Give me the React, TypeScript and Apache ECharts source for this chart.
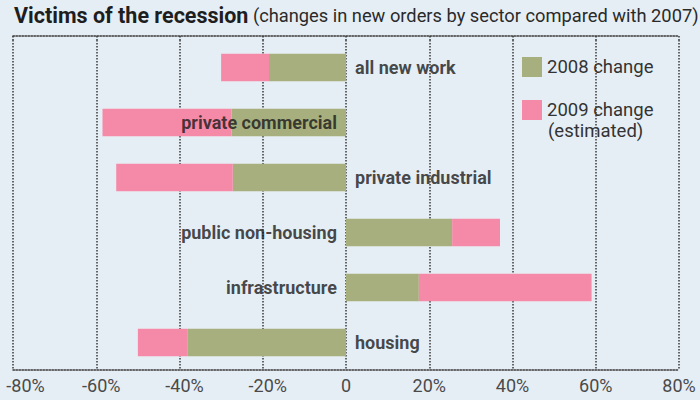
import React, { useEffect, useRef } from "react";
import * as echarts from "echarts";

const categories = [
  "all new work",
  "private commercial",
  "private industrial",
  "public non-housing",
  "infrastructure",
  "housing",
];
const change2008 = [-18.5, -27.5, -27.2, 25.5, 17.5, -38];
const change2009 = [-11.5, -31, -28, 11.5, 41.5, -12];
const labelsOnLeft = ["private commercial"];
const xTicks = [-80, -60, -40, -20, 0, 20, 40, 60, 80];

const FONT = "Roboto, 'Noto Sans', sans-serif";
const GREEN = "#a8af7e";
const PINK = "#f58aa8";
const DOT = "#3a3a3a";
const TICK_COLOR = "#4a4a4a";

export default function App() {
  const ref = useRef<HTMLDivElement>(null);
  useEffect(() => {
    if (!ref.current) return;
    const chart = echarts.init(ref.current, undefined, { renderer: "svg" });
    const xMin = xTicks[0];
    const xMax = xTicks[xTicks.length - 1];
    const interval = xTicks[1] - xTicks[0];
    chart.setOption({
      animation: false,
      backgroundColor: "#e6eef5",
      textStyle: { fontFamily: FONT },
      title: {
        left: 14,
        top: 4,
        padding: 0,
        text: "{b|Victims of the recession} {n|(changes in new orders by sector compared with 2007)}",
        textStyle: {
          rich: {
            b: { fontFamily: FONT, fontWeight: "bold", fontSize: 21.5, color: "#1e1e1e" },
            n: { fontFamily: FONT, fontWeight: "normal", fontSize: 18.3, color: "#2a2a2a" },
          },
        },
      },
      legend: {
        orient: "vertical",
        left: 522,
        top: 57,
        padding: 0,
        itemWidth: 20,
        itemHeight: 20,
        itemGap: 23,
        icon: "rect",
        selectedMode: false,
        textStyle: { fontFamily: FONT, fontSize: 18.5, color: "#333" },
        data: ["2008 change", "2009 change"],
      },
      graphic: [
        {
          type: "text",
          left: 548,
          top: 121,
          silent: true,
          style: { text: "(estimated)", font: "18.5px " + FONT, fill: "#333" },
        },
      ],
      grid: { left: 13, right: 21, top: 40, bottom: 30, outerBoundsMode: "none", containLabel: false },
      xAxis: [
        {
          type: "value",
          min: xMin,
          max: xMax,
          interval,
          position: "bottom",
          axisLine: { show: true, lineStyle: { color: DOT, type: "dotted", width: 1.5 } },
          axisTick: { show: false },
          splitLine: { show: true, lineStyle: { color: DOT, type: "dotted", width: 1.5 } },
          axisLabel: {
            margin: 6,
            fontFamily: FONT,
            fontSize: 18,
            color: TICK_COLOR,
            formatter: (v: number) =>
              v === 0 ? "0" : v === xMin ? "{first|" + v + "%}" : v < 0 ? "{neg|" + v + "%}" : v + "%",
            rich: {
              first: { fontFamily: FONT, fontSize: 18, color: TICK_COLOR, padding: [0, 0, 0, 25] },
              neg: { fontFamily: FONT, fontSize: 18, color: TICK_COLOR, padding: [0, 0, 0, 10] },
            },
          },
        },
        {
          type: "value",
          min: xMin,
          max: xMax,
          interval,
          position: "top",
          offset: 4,
          axisLine: { show: true, lineStyle: { color: DOT, type: "dotted", width: 1.5 } },
          axisTick: { show: true, inside: true, length: 4, lineStyle: { color: DOT, type: "dotted", width: 1.5 } },
          splitLine: { show: false },
          axisLabel: { show: false },
        },
      ],
      yAxis: {
        type: "category",
        data: categories,
        inverse: true,
        axisLine: { show: false },
        axisTick: { show: false },
        axisLabel: { show: false },
        splitLine: { show: false },
      },
      series: [
        {
          name: "2008 change",
          type: "bar",
          stack: "total",
          xAxisIndex: 0,
          barWidth: "50%",
          itemStyle: { color: GREEN },
          data: change2008,
        },
        {
          name: "2009 change",
          type: "bar",
          stack: "total",
          xAxisIndex: 0,
          barWidth: "50%",
          itemStyle: { color: PINK },
          data: change2009,
        },
        {
          name: "labels",
          type: "scatter",
          xAxisIndex: 0,
          symbolSize: 0,
          silent: true,
          z: 5,
          data: categories.map((c, i) => {
            const total = change2008[i] + change2009[i];
            const right = total < 0 && !labelsOnLeft.includes(c);
            return {
              value: [0, i],
              label: {
                show: true,
                position: right ? "right" : "left",
                distance: 9,
                formatter: c,
                fontFamily: FONT,
                fontWeight: "bold",
                fontSize: 18,
                color: "#1a1a1a",
              },
            };
          }),
        },
      ],
    });
    return () => chart.dispose();
  }, []);
  return (
    <div
      ref={ref}
      style={{ position: "absolute", left: 0, top: 0, width: 700, height: 400 }}
    />
  );
}
